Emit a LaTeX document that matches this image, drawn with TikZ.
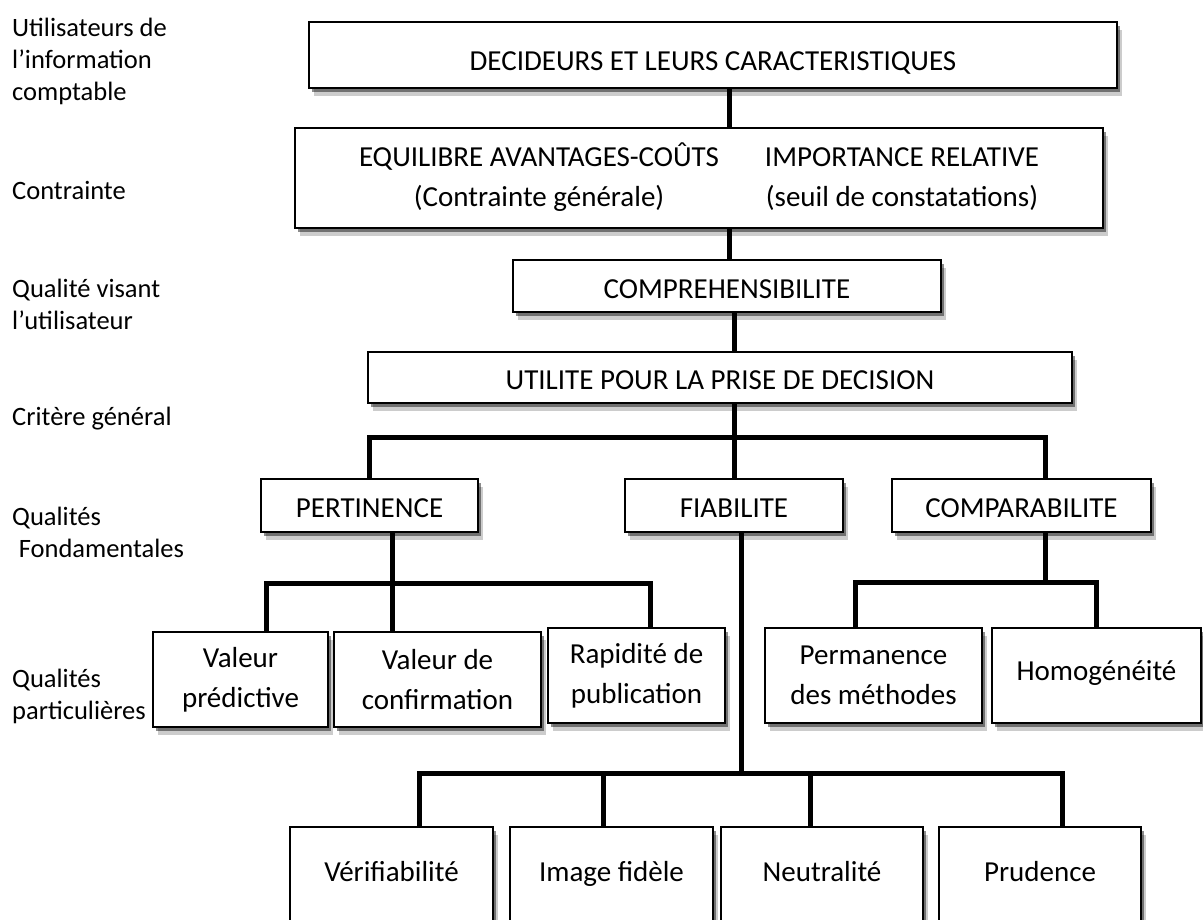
\documentclass[tikz,border=0pt]{standalone}
\usepackage{fontspec}
\setmainfont{Carlito}
\usetikzlibrary{shadows}
\newcommand{\boxtext}{\fontsize{29}{40}\selectfont}
\newcommand{\sidetext}{\fontsize{26.5}{32}\selectfont}

\begin{document}
\begin{tikzpicture}
  [ x=1pt, y=-1pt
  , box/.style={rectangle, draw, line width=1.8pt, fill=white, inner sep=0pt, align=center, font=\boxtext,
      drop shadow={shadow xshift=5pt, shadow yshift=-8pt, fill=black, opacity=.2},
      drop shadow={shadow xshift=3pt, shadow yshift=-4pt, fill=black, opacity=.45}}
  , caps/.style={text height=24.6pt, text depth=0pt}
  , low/.style={text height=22pt, text depth=13pt}
  , side/.style={anchor=west, inner sep=0pt, align=left, font=\sidetext}
  , link/.style={line width=5pt}]
  \useasboundingbox (0,0) rectangle (1203,919);
  \clip (0,0) rectangle (1203,919);
  % levels on the left
  \node (l0) at (12, 61) [side] {Utilisateurs de\\l’information\\comptable};
  \node (l1) at (12, 190) [side] {Contrainte};
  \node (l2) at (12, 304) [side] {Qualité visant\\l’utilisateur};
  \node (l3) at (12, 419) [side] {Critère général};
  \node (l4) at (12, 532) [side] {Qualités\\\hspace*{0.25em}Fondamentales};
  \node (l5) at (12, 696) [side] {Qualités\\particulières};
  % boxes
  \node (0) at (713, 55) [box, text height=30.6pt, text depth=0pt, minimum width=808, minimum height=66] {DECIDEURS ET LEURS CARACTERISTIQUES};
  \node (1) at (699, 178) [box, minimum width=808, minimum height=100]
    {\begin{tabular}{@{}c@{\hspace{46pt}}c@{}}
       EQUILIBRE AVANTAGES-COÛTS & IMPORTANCE RELATIVE\\
       (Contrainte générale) & (seuil de constatations)
     \end{tabular}};
  \node (2) at (727, 286) [box, caps, minimum width=428, minimum height=52] {COMPREHENSIBILITE};
  \node (3) at (720, 377.5) [box, caps, minimum width=704, minimum height=51] {UTILITE POUR LA PRISE DE DECISION};
  \node (4) at (369.5, 505.5) [box, caps, minimum width=217, minimum height=53] {PERTINENCE};
  \node (5) at (734, 505.5) [box, caps, minimum width=218, minimum height=53] {FIABILITE};
  \node (6) at (1021.5, 505.5) [box, caps, minimum width=259, minimum height=53] {COMPARABILITE};
  \node (7) at (240.5, 679.5) [box, minimum width=175, minimum height=95] {Valeur\\prédictive};
  \node (8) at (437.5, 679.5) [box, minimum width=207, minimum height=95] {Valeur de\\confirmation};
  \node (9) at (636.5, 675.5) [box, minimum width=177, minimum height=95] {Rapidité de\\publication};
  \node (10) at (873.5, 675.5) [box, minimum width=217, minimum height=95] {Permanence\\des méthodes};
  \node (11) at (1096.5, 675.5) [box, low, minimum width=209, minimum height=95] {Homogénéité};
  \node (12) at (391.5, 877) [box, low, minimum width=203, minimum height=100] {Vérifiabilité};
  \node (13) at (611.5, 877) [box, low, minimum width=203, minimum height=100] {Image fidèle};
  \node (14) at (822, 877) [box, low, minimum width=202, minimum height=100] {Neutralité};
  \node (15) at (1040, 877) [box, low, minimum width=202, minimum height=100] {Prudence};
  % connectors
  \coordinate (a) at (729, 0);
  \coordinate (b) at (734, 437);
  \coordinate (c) at (1045, 582);
  \coordinate (d) at (392, 583);
  \coordinate (e) at (741, 773);
  \draw [link] (0.south -| a) -- (1.north -| a);
  \draw [link] (1.south -| a) -- (2.north -| a);
  \draw [link] (2.south -| b) -- (3.north -| b);
  \draw [link] (3.south -| b) -- (5.north -| b);
  \draw [link] (4.north) |- (b) -| (6.north -| c);
  \draw [link] (6.south -| c) -- (c);
  \draw [link] ([xshift=-18.5pt]10.north) |- (c) -| (11.north);
  \draw [link] (4.south -| d) -- (8.north -| d);
  \draw [link] ([xshift=25.5pt]7.north) |- (d) -| ([xshift=13.5pt]9.north);
  \draw [link] (5.south -| e) -- (e);
  \draw [link] ([xshift=27.5pt]12.north) |- (e) -| ([xshift=22pt]15.north);
  \draw [link] ([xshift=-8.5pt]13.north) -- ([xshift=-8.5pt]13.north |- e);
  \draw [link] ([xshift=-12pt]14.north) -- ([xshift=-12pt]14.north |- e);
\end{tikzpicture}
\end{document}
